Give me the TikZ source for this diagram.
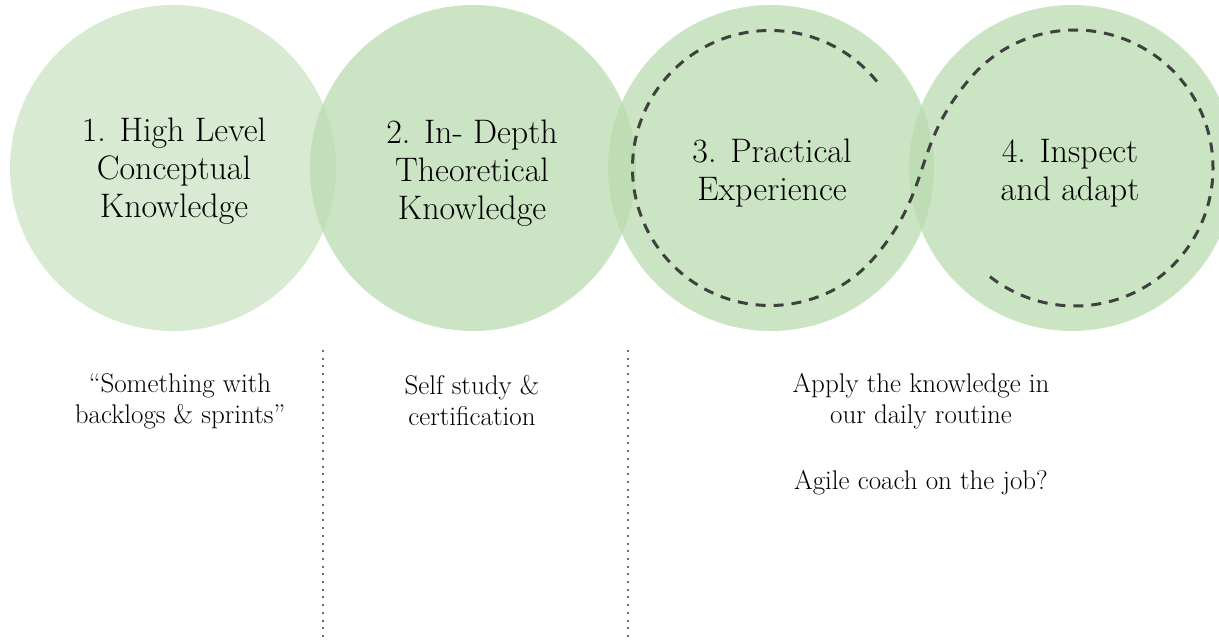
\documentclass[tikz,border=0pt]{standalone}
\usepackage{fontspec}
\definecolor{circgreen}{RGB}{186,219,176}
\definecolor{ringgray}{RGB}{64,64,64}
\definecolor{dotgray}{RGB}{110,110,110}
\tikzset{
  bigcirc/.style={circle, inner sep=0pt, minimum size=326pt, fill=circgreen,
    fill opacity=0.75},
  circtext/.style={align=center, inner sep=0pt, font=\fontsize{34}{38}\selectfont},
  ringline/.style={draw=ringgray, line width=3pt, dash pattern=on 10pt off 8pt},
  sepline/.style={draw=dotgray, line width=2pt, dash pattern=on 2pt off 5.7pt},
  bodytext/.style={align=center, inner sep=0pt, font=\fontsize{27}{31}\selectfont}
}
\begin{document}
\begin{tikzpicture}[x=1pt,y=1pt]
\useasboundingbox (0,0) rectangle (1219,641);
\clip (0,0) rectangle (1219,641);
\node[bigcirc, fill opacity=0.57] (c1) at (173,473) {};
\node[bigcirc] (c2) at (473,473) {};
\node[bigcirc] (c3) at (771,473) {};
\node[bigcirc] (c4) at (1072,473) {};
\node[circtext] (ct1) at (174,470) {1. High Level\\Conceptual\\Knowledge};
\node[circtext] (ct2) at (472,468) {2. In- Depth\\Theoretical\\Knowledge};
\node[circtext] (ct3) at (772,468) {3. Practical\\Experience};
\node[circtext] (ct4) at (1070,468) {4. Inspect\\and adapt};
\coordinate (r3) at (770,473);
\coordinate (r4) at (1075,473);
\draw[ringline] ([shift={(39:137.5)}]r3) arc[start angle=39, end angle=320, radius=137.5]
  .. controls +(50:90) and +(230:90) .. ([shift={(140:138)}]r4)
  arc[start angle=140, end angle=-130.5, radius=138];
\coordinate (s1t) at (323,291);
\coordinate (s1b) at (323,0);
\coordinate (s2t) at (628,291);
\coordinate (s2b) at (628,0);
\draw[sepline] (s1t) -- (s1b);
\draw[sepline] (s2t) -- (s2b);
\node[bodytext] (t1) at (180,240) {“Something with\\backlogs \& sprints”};
\node[bodytext] (t2) at (472,240) {Self study \&\\certification};
\node[bodytext] (t3) at (921,240) {Apply the knowledge in\\our daily routine};
\node[bodytext] (t4) at (921,158) {Agile coach on the job?};
\end{tikzpicture}
\end{document}
